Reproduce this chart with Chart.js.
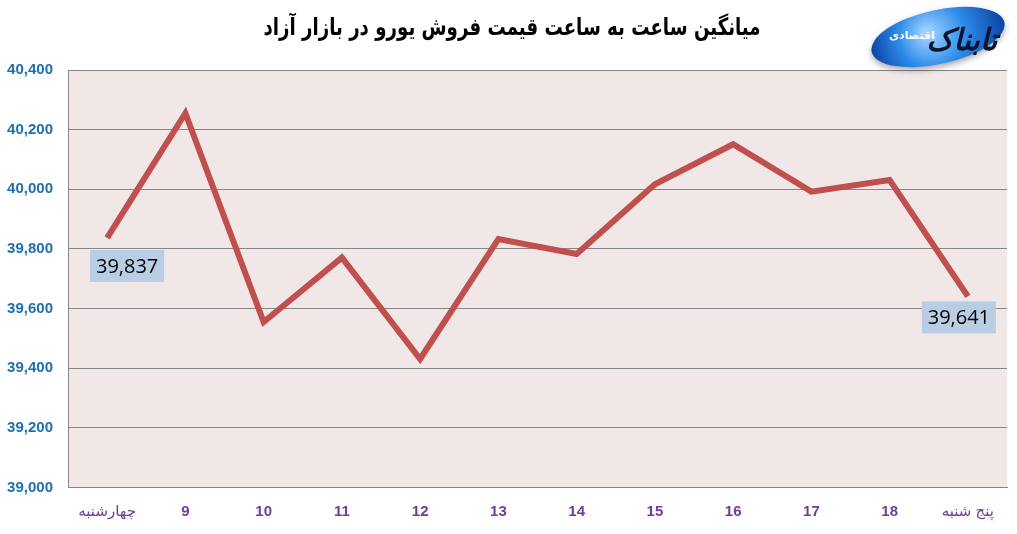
<!DOCTYPE html>
<html>
<head>
<meta charset="utf-8">
<script src="https://cdn.jsdelivr.net/npm/chart.js@4.4.1/dist/chart.umd.min.js"></script>
<style>
html,body{margin:0;padding:0;background:#fff;}
#wrap{width:1017px;height:534px;}
</style>
</head>
<body>
<div id="wrap"><canvas id="c" width="1017" height="534"></canvas></div>
<script>
// ---- data ----
const titleText = 'میانگین ساعت به ساعت قیمت فروش یورو در بازار آزاد';
const categories = ['چهارشنبه','9','10','11','12','13','14','15','16','17','18','پنج شنبه'];
const euroPrice = [39837, 40255, 39555, 39771, 39431, 39833, 39783, 40017, 40151, 39992, 40031, 39641];
const yTicks = [39000, 39200, 39400, 39600, 39800, 40000, 40200, 40400];
const labeledPoints = [0, 11];

const labelOffsets = {0: {dx: 20, dy: 28}, 11: {dx: -9, dy: 21}};

const bgPlugin = {
  id: 'bg',
  beforeDraw(chart) {
    const {ctx, chartArea: a} = chart;
    ctx.save();
    ctx.fillStyle = '#F2E7E7';
    ctx.fillRect(a.left, a.top, a.right - a.left, a.bottom - a.top);
    ctx.restore();
  }
};

const titlePlugin = {
  id: 'ttl',
  afterDraw(chart) {
    const ctx = chart.ctx;
    ctx.save();
    const size = 24;
    ctx.font = 'bold ' + size + 'px "DejaVu Sans"';
    ctx.direction = 'rtl';
    const w = ctx.measureText(titleText).width;
    const sx = 497 / w;
    ctx.translate(512, 29);
    ctx.scale(sx, 1);
    ctx.fillStyle = '#000';
    ctx.textAlign = 'center';
    ctx.textBaseline = 'middle';
    ctx.fillText(titleText, 0, 0);
    ctx.restore();

    // logo approximation
    ctx.save();
    ctx.translate(938, 37);
    ctx.rotate(-0.22);
    ctx.shadowColor = 'rgba(0,0,0,0.35)';
    ctx.shadowBlur = 6;
    ctx.shadowOffsetY = 3;
    const g = ctx.createRadialGradient(-10, -6, 4, 0, 0, 70);
    g.addColorStop(0, '#9BD0FF');
    g.addColorStop(0.45, '#2D8BEA');
    g.addColorStop(1, '#0A3F9E');
    ctx.fillStyle = g;
    ctx.beginPath();
    ctx.ellipse(0, 0, 68, 27, 0, 0, Math.PI * 2);
    ctx.fill();
    ctx.restore();
    ctx.save();
    ctx.fillStyle = '#0B1530';
    ctx.textAlign = 'center';
    ctx.textBaseline = 'middle';
    ctx.font = 'bold italic 30px "DejaVu Sans"';
    ctx.direction = 'rtl';
    ctx.fillText('تابناک', 962, 42);
    ctx.fillStyle = '#ffffff';
    ctx.font = 'bold 11px "DejaVu Sans"';
    ctx.fillText('اقتصادی', 912, 36);
    ctx.restore();
  }
};

const valueLabelPlugin = {
  id: 'vlabels',
  afterDatasetsDraw(chart) {
    const ctx = chart.ctx;
    const meta = chart.getDatasetMeta(0);
    ctx.save();
    ctx.font = '20px "Open Sans"';
    ctx.textAlign = 'center';
    ctx.textBaseline = 'middle';
    labeledPoints.forEach(i => {
      const el = meta.data[i];
      const off = labelOffsets[i];
      const cx = el.x + off.dx, cy = el.y + off.dy;
      const txt = euroPrice[i].toLocaleString('en-US');
      const w = 74;
      const h = 32;
      ctx.fillStyle = '#B9CDE5';
      ctx.fillRect(cx - w / 2, cy - h / 2, w, h);
      ctx.fillStyle = '#000';
      ctx.fillText(txt, cx, cy + 1);
    });
    ctx.restore();
  }
};

new Chart(document.getElementById('c'), {
  type: 'line',
  data: {
    labels: categories,
    datasets: [{
      data: euroPrice,
      borderColor: '#C0504D',
      borderWidth: 6,
      pointRadius: 0,
      pointHoverRadius: 0,
      tension: 0,
      fill: false,
      borderJoinStyle: 'miter',
      borderCapStyle: 'butt'
    }]
  },
  options: {
    responsive: false,
    animation: false,
    events: [],
    layout: {padding: {top: 70, right: 10, left: 0, bottom: 0}},
    plugins: {legend: {display: false}, tooltip: {enabled: false}, title: {display: false}},
    scales: {
      x: {
        type: 'category',
        offset: true,
        grid: {display: false, drawTicks: false},
        border: {display: true, color: '#878787', width: 1},
        ticks: {
          color: '#6F3C97',
          font: (c) => {
            const lbl = categories[c.index] || '';
            const arabic = /[\u0600-\u06FF]/.test(lbl);
            return {family: '"Liberation Sans", "DejaVu Sans"', size: 15, weight: arabic ? 'normal' : 'bold'};
          },
          padding: 15,
          maxRotation: 0,
          autoSkip: false
        },
        afterFit(s) { s.height = 46.5; }
      },
      y: {
        min: yTicks[0],
        max: yTicks[yTicks.length - 1],
        afterBuildTicks(s) { s.ticks = yTicks.map(v => ({value: v})); },
        grid: {color: '#878787', lineWidth: 1, drawTicks: false},
        border: {display: true, color: '#878787', width: 1},
        ticks: {
          color: '#1F6FAF',
          font: {family: '"Liberation Sans"', size: 15, weight: 'bold'},
          padding: 15,
          callback: v => Number(v).toLocaleString('en-US')
        },
        afterFit(s) { s.width = 68; }
      }
    }
  },
  plugins: [bgPlugin, titlePlugin, valueLabelPlugin]
});
</script>
</body>
</html>
